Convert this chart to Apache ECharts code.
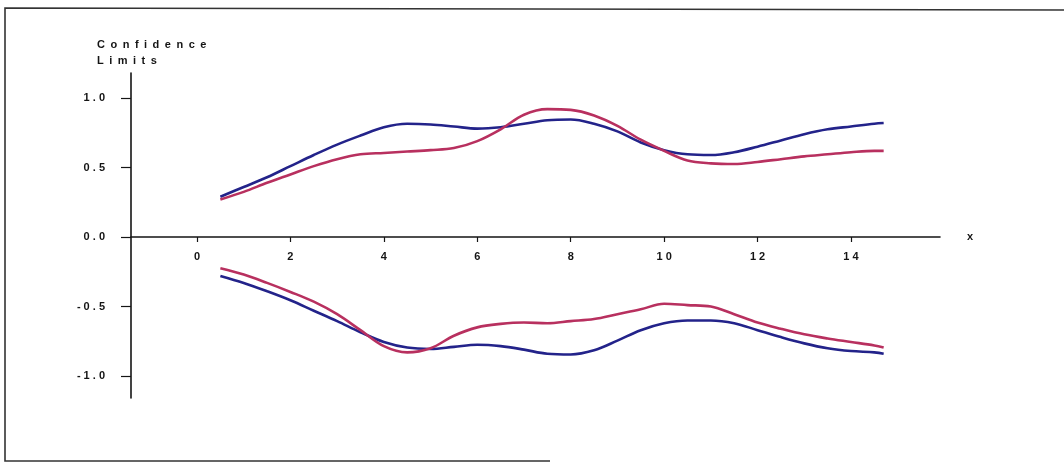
<!DOCTYPE html>
<html>
<head>
<meta charset="utf-8">
<script src="https://cdn.jsdelivr.net/npm/echarts@6/dist/echarts.min.js"></script>
<style>
  html, body { margin: 0; padding: 0; background: #ffffff; }
  #chart { width: 1064px; height: 464px; }
</style>
</head>
<body>
<div id="chart"></div>
<script>
// Sample positions along x
const xs = [0.5, 1, 1.5, 2, 2.5, 3, 3.5, 4, 4.5, 5, 5.5, 6, 6.5, 7, 7.5, 8, 8.5,
            9, 9.5, 10, 10.5, 11, 11.5, 12, 12.5, 13, 13.5, 14, 14.5, 14.7];

// Upper confidence limits
const upperBlue = [0.29, 0.36, 0.43, 0.51, 0.59, 0.665, 0.73, 0.79, 0.815, 0.81, 0.795, 0.78, 0.79, 0.815, 0.84,
                   0.845, 0.815, 0.76, 0.68, 0.625, 0.595, 0.59, 0.61, 0.65, 0.695, 0.74, 0.775, 0.795, 0.815, 0.82];
const upperRed = [0.27, 0.325, 0.39, 0.45, 0.51, 0.56, 0.595, 0.605, 0.615, 0.625, 0.64, 0.69, 0.775, 0.88, 0.92,
                  0.915, 0.875, 0.80, 0.70, 0.62, 0.55, 0.53, 0.525, 0.54, 0.56, 0.58, 0.595, 0.61, 0.62, 0.62];

// Lower confidence limits
const lowerBlue = [-0.28, -0.33, -0.39, -0.455, -0.53, -0.605, -0.685, -0.755, -0.795, -0.805, -0.79, -0.775, -0.785, -0.81, -0.84,
                   -0.845, -0.815, -0.745, -0.67, -0.62, -0.60, -0.60, -0.62, -0.67, -0.72, -0.765, -0.80, -0.82, -0.83, -0.84];
const lowerRed = [-0.225, -0.27, -0.33, -0.395, -0.465, -0.555, -0.67, -0.785, -0.83, -0.80, -0.71, -0.65, -0.625, -0.615, -0.62,
                  -0.605, -0.59, -0.555, -0.52, -0.48, -0.49, -0.50, -0.555, -0.615, -0.66, -0.70, -0.73, -0.755, -0.78, -0.795];

// Tick labels
const xTicks = [0, 2, 4, 6, 8, 10, 12, 14];
const yTicks = [-1, -0.5, 0, 0.5, 1];

const BLUE = '#23238a';
const RED = '#b8305f';
const INK = '#151515';
const FONT = 'Liberation Sans, Arial, Helvetica, sans-serif';

// Spread characters apart, as in the typeset axis text
const spread = s => String(s).split('').join(' ');
const spreadWide = s => String(s).split('').join('\u2002');

const pairs = arr => xs.map((x, i) => [x, arr[i]]);

function curve(name, data, color) {
  return {
    name: name,
    type: 'line',
    data: pairs(data),
    smooth: 0.35,
    showSymbol: false,
    silent: true,
    lineStyle: { color: color, width: 2.6 },
    z: 3
  };
}

const GRID = { left: 131, top: 73, width: 809, height: 325 };
const X_MIN = -1.413, X_MAX = 15.906;
const Y_MIN = -1.158, Y_MAX = 1.18;
// Pixel row of y = 0 inside the grid, so the x labels sit just under the zero line
const zeroRow = GRID.top + GRID.height * (Y_MAX / (Y_MAX - Y_MIN));
const xLabelMargin = (zeroRow + 14) - (GRID.top + GRID.height);

const chart = echarts.init(document.getElementById('chart'), null, { renderer: 'canvas' });

chart.setOption({
  animation: false,
  backgroundColor: '#ffffff',
  grid: Object.assign({ containLabel: false }, GRID),
  xAxis: {
    type: 'value',
    min: X_MIN,
    max: X_MAX,
    name: 'x',
    nameLocation: 'end',
    nameGap: 27,
    nameTextStyle: { color: INK, fontFamily: FONT, fontSize: 11, fontWeight: 'bold', padding: [9, 0, 0, 0] },
    axisLine: { onZero: true, lineStyle: { color: INK, width: 1.6 } },
    axisTick: { show: true, inside: false, length: 5, customValues: xTicks, lineStyle: { color: INK, width: 1.2 } },
    axisLabel: {
      customValues: xTicks,
      margin: xLabelMargin,
      color: INK,
      fontFamily: FONT,
      fontSize: 11,
      fontWeight: 'bold',
      formatter: v => spread(v)
    },
    splitLine: { show: false }
  },
  yAxis: {
    type: 'value',
    min: Y_MIN,
    max: Y_MAX,
    axisLine: { show: true, onZero: false, lineStyle: { color: INK, width: 1.6 } },
    axisTick: { show: true, inside: false, length: 10, customValues: yTicks, lineStyle: { color: INK, width: 1.2 } },
    axisLabel: {
      customValues: yTicks,
      margin: 26,
      color: INK,
      fontFamily: FONT,
      fontSize: 11,
      fontWeight: 'bold',
      formatter: v => spread(Number(v).toFixed(1))
    },
    splitLine: { show: false }
  },
  graphic: [
    {
      type: 'polyline',
      silent: true,
      shape: { points: [[1064, 10], [5, 8], [5, 461], [550, 461]] },
      style: { stroke: '#333333', lineWidth: 1.6, fill: null }
    },
    {
      type: 'text',
      left: 97,
      top: 37,
      silent: true,
      style: {
        text: spreadWide('Confidence') + '\n' + spreadWide('Limits'),
        fill: INK,
        font: 'bold 11px ' + FONT,
        lineHeight: 16
      }
    }
  ],
  series: [
    curve('Upper (blue)', upperBlue, BLUE),
    curve('Upper (red)', upperRed, RED),
    curve('Lower (blue)', lowerBlue, BLUE),
    curve('Lower (red)', lowerRed, RED)
  ]
});
</script>
</body>
</html>
